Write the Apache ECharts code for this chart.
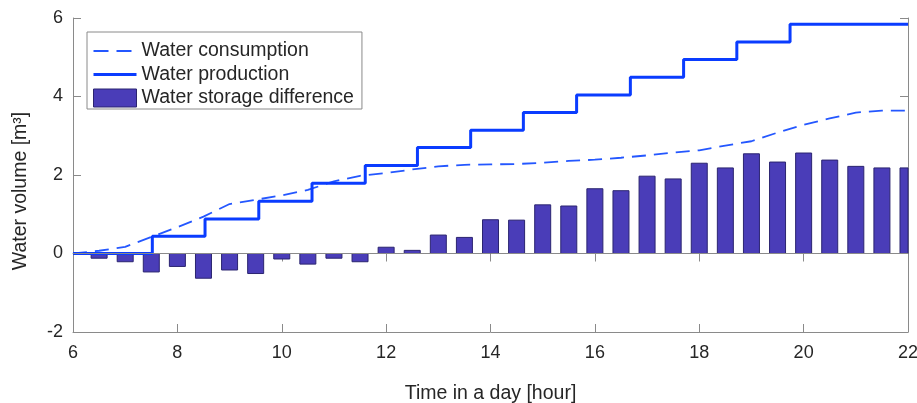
<!DOCTYPE html>
<html>
<head>
<meta charset="utf-8">
<script src="https://cdn.jsdelivr.net/npm/echarts@6/dist/echarts.min.js"></script>
<style>
    html, body { margin: 0; padding: 0; background: #fff; }
    #chart { width: 917px; height: 403px; }
</style>
</head>
<body>
<div id="chart"></div>
<script type="text/javascript">
    // hours where the bars sit
    var barHours = [6.5, 7, 7.5, 8, 8.5, 9, 9.5, 10, 10.5, 11, 11.5, 12, 12.5, 13, 13.5, 14,
        14.5, 15, 15.5, 16, 16.5, 17, 17.5, 18, 18.5, 19, 19.5, 20, 20.5, 21, 21.5, 22];
    var storageDiff = [-0.12, -0.21, -0.47, -0.33, -0.63, -0.42, -0.51, -0.14, -0.27, -0.12, -0.21, 0.16,
        0.08, 0.47, 0.41, 0.86, 0.85, 1.24, 1.21, 1.65, 1.60, 1.97, 1.90, 2.30, 2.18, 2.54,
        2.33, 2.56, 2.38, 2.22, 2.18, 2.18];

    // consumption curve
    var consHours = [6, 6.5, 7, 7.5, 8, 8.5, 9, 9.5, 10, 10.5, 11, 11.5, 12, 12.5, 13, 13.5, 14,
        14.5, 15, 15.5, 16, 16.5, 17, 17.5, 18, 18.5, 19, 19.5, 20, 20.5, 21, 21.5, 22];
    var consumption = [0, 0.07, 0.17, 0.42, 0.67, 0.94, 1.26, 1.37, 1.48, 1.62, 1.84, 1.98, 2.05, 2.14,
        2.22, 2.26, 2.27, 2.28, 2.31, 2.36, 2.39, 2.44, 2.50, 2.57, 2.63, 2.75, 2.86, 3.08,
        3.28, 3.44, 3.59, 3.64, 3.64];

    // production steps
    var stepHours = [6, 7.52, 8.53, 9.56, 10.58, 11.60, 12.60, 13.62, 14.63, 15.65, 16.68, 17.70, 18.72, 19.74, 22];
    var production = [0, 0.44, 0.88, 1.33, 1.79, 2.24, 2.70, 3.14, 3.59, 4.04, 4.49, 4.94, 5.39, 5.84, 5.84];

    var xTicks = [6, 8, 10, 12, 14, 16, 18, 20, 22];
    var yTicks = [-2, 0, 2, 4, 6];

    var axisGray = '#8a8a8a';
    var textDark = '#262626';
    var barColor = '#4a3db8';
    var barEdge = '#2b2470';
    var fontName = 'Liberation Sans, Arial, sans-serif';

    function pairs(xs, ys) {
        var out = [];
        for (var i = 0; i < xs.length; i++) {
            out.push([xs[i], ys[i]]);
        }
        return out;
    }

    // bars drawn through the axes, clipped to the plot box like matlab does
    function renderBar(params, api) {
        var x = api.value(0);
        var base = api.coord([x, 0]);
        var top = api.coord([x, api.value(1)]);
        var w = 16;
        var cs = params.coordSys;
        var rect = echarts.graphic.clipRectByRect({
            x: base[0] - w / 2,
            y: Math.min(base[1], top[1]),
            width: w,
            height: Math.abs(top[1] - base[1])
        }, { x: cs.x, y: cs.y, width: cs.width, height: cs.height });
        if (!rect) return;
        return {
            type: 'rect',
            shape: rect,
            style: { fill: barColor, stroke: barEdge, lineWidth: 1 }
        };
    }

    var chart = echarts.init(document.getElementById('chart'), null, { renderer: 'canvas' });

    var frameAxis = {
        show: true,
        axisLine: { show: true, lineStyle: { color: axisGray, width: 1 } },
        axisTick: { show: true, inside: true, length: 8, lineStyle: { color: axisGray } },
        axisLabel: { show: false },
        splitLine: { show: false }
    };
    var hidden = { color: 'rgba(0,0,0,0)', borderWidth: 0 };

    var options = {
        animation: false,
        backgroundColor: '#fff',
        grid: { left: 73, right: 9, top: 18, bottom: 71, outerBoundsMode: 'none' },
        legend: {
            left: 87,
            top: 32,
            orient: 'vertical',
            backgroundColor: '#fff',
            borderColor: '#8a8a8a',
            borderWidth: 1,
            borderRadius: 0,
            padding: [9, 8, 1, 5],
            itemWidth: 43,
            itemHeight: 18,
            itemGap: 3.5,
            textStyle: { fontFamily: fontName, fontSize: 19.5, color: textDark },
            data: [
                { name: 'Water consumption', itemStyle: hidden,
                  lineStyle: { color: '#2457ff', width: 1.8, type: [15, 8] } },
                { name: 'Water production', itemStyle: hidden,
                  lineStyle: { color: '#0a3cff', width: 3 } },
                { name: 'Water storage difference', icon: 'rect',
                  itemStyle: { color: barColor, borderColor: barEdge, borderWidth: 1 } }
            ]
        },
        xAxis: [
            {
                type: 'value',
                min: 6,
                max: 22,
                interval: 2,
                name: 'Time in a day [hour]',
                nameLocation: 'middle',
                nameGap: 52,
                nameTextStyle: { fontFamily: fontName, fontSize: 19.5, color: textDark },
                axisLine: { show: true, onZero: false, lineStyle: { color: axisGray } },
                axisTick: { show: true, inside: true, length: 8, lineStyle: { color: axisGray } },
                axisLabel: {
                    fontFamily: fontName, fontSize: 18, color: textDark, margin: 12,
                    formatter: function (v) { return xTicks.indexOf(v) >= 0 ? String(v) : ''; }
                },
                splitLine: { show: false }
            },
            Object.assign({ type: 'value', position: 'top', min: 6, max: 22, interval: 2 }, frameAxis)
        ],
        yAxis: [
            {
                type: 'value',
                min: -2,
                max: 6,
                interval: 2,
                name: 'Water volume [m³]',
                nameLocation: 'middle',
                nameGap: 42,
                nameTextStyle: {
                    fontFamily: fontName, fontSize: 19.5, color: textDark,
                    padding: [0, 32, 0, 0]
                },
                axisLine: { show: true, lineStyle: { color: axisGray } },
                axisTick: { show: true, inside: true, length: 8, lineStyle: { color: axisGray } },
                axisLabel: {
                    fontFamily: fontName, fontSize: 18, color: textDark, margin: 10,
                    formatter: function (v) { return yTicks.indexOf(v) >= 0 ? String(v) : ''; }
                },
                splitLine: { show: false }
            },
            Object.assign({ type: 'value', position: 'right', min: -2, max: 6, interval: 2 }, frameAxis)
        ],
        series: [
            {
                name: 'Water storage difference',
                type: 'custom',
                xAxisIndex: 0,
                yAxisIndex: 0,
                renderItem: renderBar,
                itemStyle: { color: barColor, borderColor: barEdge, borderWidth: 1 },
                encode: { x: 0, y: 1 },
                data: pairs(barHours, storageDiff),
                markLine: {
                    silent: true,
                    symbol: 'none',
                    label: { show: false },
                    lineStyle: { color: axisGray, type: 'solid', width: 1 },
                    data: [{ yAxis: 0 }]
                },
                z: 2
            },
            {
                name: 'Water consumption',
                type: 'line',
                xAxisIndex: 0,
                yAxisIndex: 0,
                symbol: 'none',
                lineStyle: { color: '#2457ff', width: 1.8, type: [14, 8] },
                itemStyle: { color: '#2457ff' },
                data: pairs(consHours, consumption),
                z: 3
            },
            {
                name: 'Water production',
                type: 'line',
                xAxisIndex: 0,
                yAxisIndex: 0,
                step: 'end',
                symbol: 'none',
                lineStyle: { color: '#0a3cff', width: 3 },
                itemStyle: { color: '#0a3cff' },
                data: pairs(stepHours, production),
                z: 4
            }
        ]
    };

    chart.setOption(options);
</script>
</body>
</html>
